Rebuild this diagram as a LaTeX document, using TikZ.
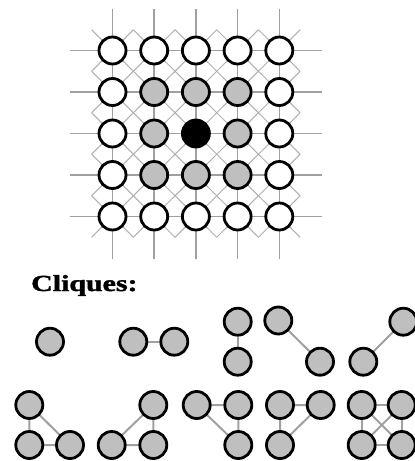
\documentclass[tikz,border=0pt]{standalone}
\usepackage{fontspec}
\setmainfont{Liberation Serif}
\usetikzlibrary{calc,backgrounds}
\definecolor{cfill}{HTML}{BFBFBF}
\definecolor{lgray}{HTML}{A0A0A0}
\definecolor{dgray}{HTML}{B0B0B0}
\begin{document}
\begin{tikzpicture}[x=1pt,y=-1pt,
  site/.style={circle,draw=black,line width=2.8pt,minimum size=27pt,inner sep=0pt,fill=white},
  gsite/.style={site,fill=cfill},
  lat/.style={draw=lgray,line width=1.5pt},
  dia/.style={draw=dgray,line width=1pt},
  cedge/.style={draw=lgray,line width=2pt}]
\useasboundingbox (0,0) rectangle (415,461);
\clip (0,0) rectangle (415,461);
% lattice coordinates
\foreach \i in {0,...,4}{
  \foreach \j in {0,...,4}{
    \coordinate (c-\i-\j) at ({112.5+41.7*\i},{50.5+41.5*\j});
  }
}
% lattice lines
\foreach \i in {0,...,4}{
  \draw[lat] ($(c-\i-0)+(0,-42)$) -- ($(c-\i-4)+(0,42)$);
  \draw[lat] ($(c-0-\i)+(-43,0)$) -- ($(c-4-\i)+(43,0)$);
}
\foreach \i in {0,...,4}{
  \foreach \j in {0,...,4}{
    \draw[dia] ($(c-\i-\j)+(-20.85,-20.75)$) -- ($(c-\i-\j)+(20.85,20.75)$);
    \draw[dia] ($(c-\i-\j)+(-20.85,20.75)$) -- ($(c-\i-\j)+(20.85,-20.75)$);
  }
}
% lattice sites
\foreach \j/\a/\b/\c/\d/\e in {0/white/white/white/white/white,
  1/white/cfill/cfill/cfill/white,
  2/white/cfill/black/cfill/white,
  3/white/cfill/cfill/cfill/white,
  4/white/white/white/white/white}{
  \node[site,fill=\a] (g-0-\j) at (c-0-\j) {};
  \node[site,fill=\b] (g-1-\j) at (c-1-\j) {};
  \node[site,fill=\c] (g-2-\j) at (c-2-\j) {};
  \node[site,fill=\d] (g-3-\j) at (c-3-\j) {};
  \node[site,fill=\e] (g-4-\j) at (c-4-\j) {};
}
% title
\node[anchor=base west,inner sep=0pt] (title) at (31,291)
  {\scalebox{1.3}[1]{\fontsize{23}{23}\selectfont\bfseries\addfontfeature{FakeBold=1.5}Cliques:}};
% cliques, first row
\node[gsite] (k1) at (50,341.7) {};
\node[gsite] (p1) at (133.3,341.7) {};
\node[gsite] (p2) at (174.3,341.7) {};
\node[gsite] (v1) at (237.7,321.7) {};
\node[gsite] (v2) at (237.7,361.7) {};
\node[gsite] (d1) at (278.3,320.5) {};
\node[gsite] (d2) at (320,361.7) {};
\node[gsite] (e1) at (363.3,361.7) {};
\node[gsite] (e2) at (403.3,321.7) {};
% cliques, second row
\node[gsite] (ta1) at (29.3,405) {};
\node[gsite] (ta2) at (29.3,445) {};
\node[gsite] (ta3) at (70,445) {};
\node[gsite] (tb1) at (153.3,405) {};
\node[gsite] (tb2) at (111.7,445) {};
\node[gsite] (tb3) at (153.3,445) {};
\node[gsite] (tc1) at (196.7,405) {};
\node[gsite] (tc2) at (238.3,405) {};
\node[gsite] (tc3) at (238.3,445) {};
\node[gsite] (td1) at (280,405) {};
\node[gsite] (td2) at (320.7,405) {};
\node[gsite] (td3) at (280,445) {};
\node[gsite] (s1) at (361.7,405) {};
\node[gsite] (s2) at (401.7,405) {};
\node[gsite] (s3) at (361.7,445) {};
\node[gsite] (s4) at (401.7,445) {};
\begin{scope}[on background layer]
  \draw[cedge] (p1) -- (p2);
  \draw[cedge] (v1) -- (v2);
  \draw[cedge] (d1) -- (d2);
  \draw[cedge] (e1) -- (e2);
  \draw[cedge] (ta1) -- (ta2) -- (ta3) -- (ta1);
  \draw[cedge] (tb1) -- (tb2) -- (tb3) -- (tb1);
  \draw[cedge] (tc1) -- (tc2) -- (tc3) -- (tc1);
  \draw[cedge] (td1) -- (td2) -- (td3) -- (td1);
  \draw[cedge] (s1) -- (s2) -- (s4) -- (s3) -- (s1);
  \draw[cedge] (s1) -- (s4);
  \draw[cedge] (s2) -- (s3);
\end{scope}
\end{tikzpicture}
\end{document}
